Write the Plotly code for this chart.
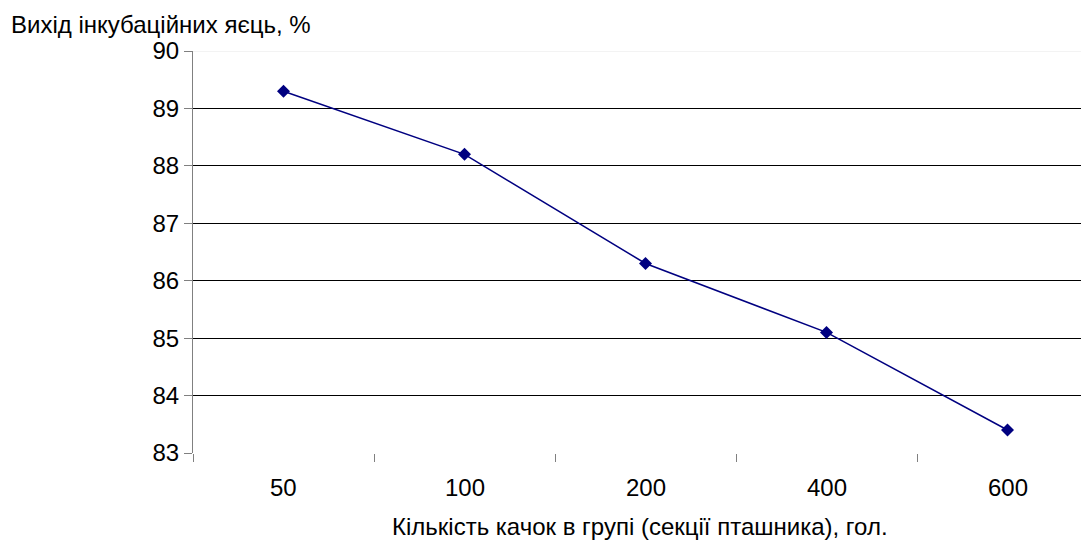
import plotly.graph_objects as go

categories = ["50", "100", "200", "400", "600"]
values = [89.3, 88.2, 86.3, 85.1, 83.4]
y_ticks = [83, 84, 85, 86, 87, 88, 89, 90]

y_title = "Вихід інкубаційних яєць, %"
x_title = "Кількість качок в групі (секції пташника), гол."

# page body has an 8px margin; figure positioned at (8, 8)
OFF = 8
W, H = 1089 - OFF, 540 - OFF
L = 193 - OFF          # plot-area left in figure coords
T = 51 - OFF           # plot-area top
BOT = 453 - OFF        # plot-area bottom
B = H - BOT
FONT = "Liberation Sans, Arial, sans-serif"
FS = 24

fig = go.Figure()
fig.add_trace(go.Scatter(
    x=list(range(len(categories))), y=values, mode="lines+markers",
    line=dict(color="#000080", width=1.5),
    marker=dict(symbol="diamond", size=10, color="#000080"),
    showlegend=False, cliponaxis=False,
))

cat_px = 181.0
x_end = -0.5 + (W - L) / cat_px

fig.update_layout(
    width=W, height=H,
    margin=dict(l=L, r=0, t=T, b=B, pad=0),
    paper_bgcolor="white", plot_bgcolor="white",
    font=dict(family=FONT, size=FS, color="black"),
    xaxis=dict(
        range=[-0.5, x_end],
        tickmode="array",
        tickvals=[i - 0.5 for i in range(len(categories) + 1)],
        ticktext=[""] * (len(categories) + 1),
        ticks="outside", ticklen=8, tickcolor="#808080", tickwidth=1,
        showgrid=False, zeroline=False, showline=False,
    ),
    yaxis=dict(
        range=[83, 90],
        tickvals=y_ticks,
        ticks="outside", ticklen=8, tickcolor="#808080", tickwidth=1,
        showgrid=True, gridcolor="black", gridwidth=1,
        zeroline=False,
        showline=True, linecolor="#808080", linewidth=1,
        tickfont=dict(size=FS),
    ),
)

for i, c in enumerate(categories):
    fig.add_annotation(x=i, y=0, xref="x", yref="paper", yshift=-34,
                       text=c, showarrow=False, font=dict(size=FS),
                       xanchor="center", yanchor="middle")

fig.add_shape(type="line", xref="paper", yref="y", x0=0, x1=1, y0=90, y1=90,
              line=dict(color="#e8e8e8", width=1), layer="above")

ph = H - T - B
pw = W - L

def px_x(x):
    return (x - OFF - L) / pw

def px_y(y):
    return (H - (y - OFF) - B) / ph

fig.add_annotation(x=px_x(9), y=px_y(25), xref="paper", yref="paper",
                   text=y_title, showarrow=False, xanchor="left",
                   yanchor="middle", font=dict(size=FS))
fig.add_annotation(x=px_x(640), y=px_y(526), xref="paper", yref="paper",
                   text=x_title, showarrow=False, xanchor="center",
                   yanchor="middle", font=dict(size=FS))

fig.write_html("out.html")
